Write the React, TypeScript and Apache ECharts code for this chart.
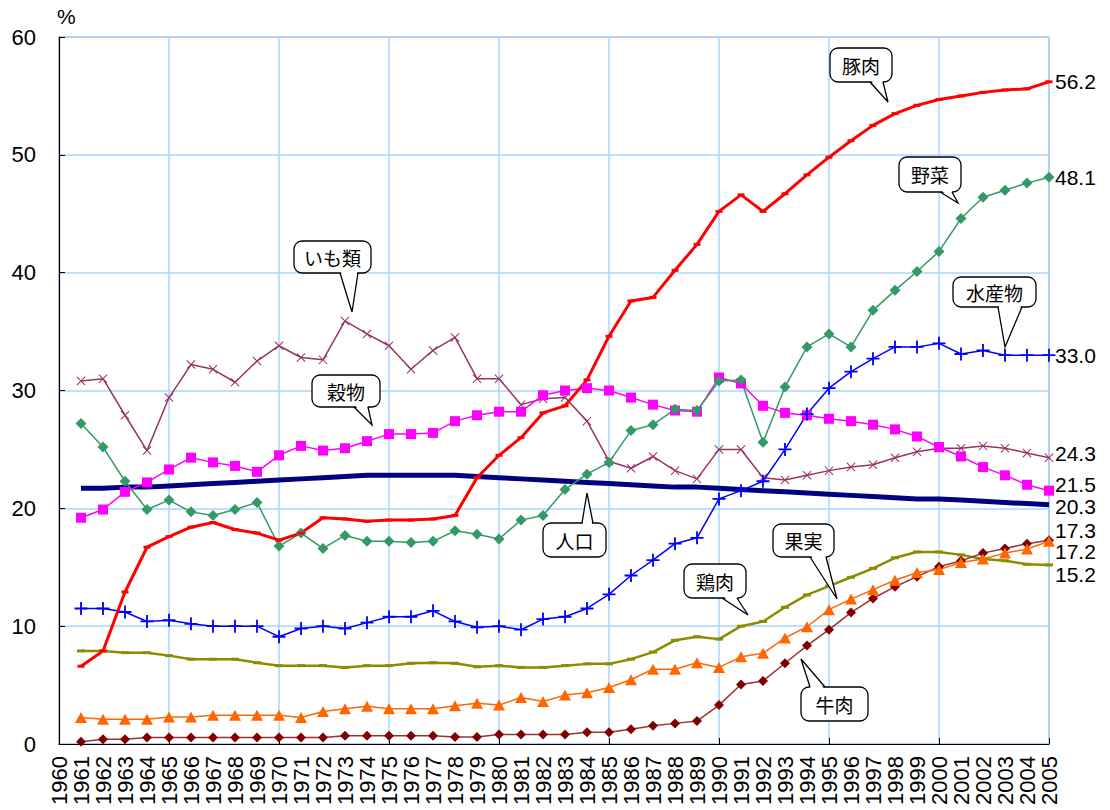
import React, { useEffect, useRef } from "react";
import * as echarts from "echarts";

// ---------- data ----------
const years: string[] = Array.from({ length: 46 }, (_, i) => String(1960 + i));
const yTicks = [0, 10, 20, 30, 40, 50, 60];

// values for 1961..2005 (1960 has no value)
const pork = [6.6, 7.9, 12.9, 16.7, 17.6, 18.4, 18.8, 18.2, 17.9, 17.3, 17.9, 19.2, 19.1, 18.9, 19.0, 19.0, 19.1, 19.4, 22.6, 24.5, 26.0, 28.1, 28.7, 30.9, 34.6, 37.6, 37.9, 40.2, 42.4, 45.2, 46.6, 45.2, 46.7, 48.3, 49.8, 51.2, 52.5, 53.5, 54.2, 54.7, 55.0, 55.3, 55.5, 55.6, 56.2];
const vegetables = [27.2, 25.2, 22.3, 19.9, 20.7, 19.7, 19.4, 19.9, 20.5, 16.8, 17.9, 16.6, 17.7, 17.2, 17.2, 17.1, 17.2, 18.1, 17.8, 17.4, 19.0, 19.4, 21.6, 22.9, 23.9, 26.6, 27.1, 28.4, 28.3, 30.8, 30.9, 25.6, 30.3, 33.7, 34.8, 33.7, 36.8, 38.5, 40.1, 41.8, 44.6, 46.4, 47.0, 47.6, 48.1];
const fishery = [11.5, 11.5, 11.2, 10.4, 10.5, 10.2, 10.0, 10.0, 10.0, 9.1, 9.8, 10.0, 9.8, 10.3, 10.8, 10.8, 11.3, 10.4, 9.9, 10.0, 9.7, 10.6, 10.8, 11.5, 12.7, 14.3, 15.6, 17.0, 17.5, 20.8, 21.5, 22.3, 25.0, 28.0, 30.2, 31.6, 32.7, 33.7, 33.7, 34.0, 33.1, 33.4, 33.0, 33.0, 33.0];
const grains = [19.2, 19.9, 21.4, 22.2, 23.3, 24.3, 23.9, 23.6, 23.1, 24.5, 25.3, 24.9, 25.1, 25.7, 26.3, 26.3, 26.4, 27.4, 27.9, 28.2, 28.2, 29.6, 30.0, 30.2, 30.0, 29.4, 28.8, 28.3, 28.2, 31.1, 30.6, 28.7, 28.1, 27.9, 27.6, 27.4, 27.1, 26.7, 26.1, 25.2, 24.4, 23.5, 22.8, 22.0, 21.5];
const potatoes = [30.8, 31.0, 27.9, 24.9, 29.4, 32.2, 31.8, 30.7, 32.5, 33.8, 32.8, 32.6, 35.9, 34.8, 33.8, 31.8, 33.4, 34.5, 31.0, 31.0, 28.8, 29.3, 29.4, 27.4, 24.0, 23.4, 24.4, 23.2, 22.5, 25.0, 25.0, 22.6, 22.4, 22.8, 23.2, 23.5, 23.7, 24.3, 24.8, 25.1, 25.1, 25.3, 25.1, 24.7, 24.3];
const population = [21.7, 21.7, 21.8, 21.8, 21.9, 22.0, 22.1, 22.2, 22.3, 22.4, 22.5, 22.6, 22.7, 22.8, 22.8, 22.8, 22.8, 22.8, 22.7, 22.6, 22.5, 22.4, 22.3, 22.2, 22.1, 22.0, 21.9, 21.8, 21.8, 21.7, 21.6, 21.5, 21.4, 21.3, 21.2, 21.1, 21.0, 20.9, 20.8, 20.8, 20.7, 20.6, 20.5, 20.4, 20.3];
const fruit = [7.9, 7.9, 7.75, 7.75, 7.5, 7.2, 7.2, 7.2, 6.9, 6.65, 6.65, 6.65, 6.5, 6.65, 6.65, 6.85, 6.9, 6.85, 6.55, 6.65, 6.5, 6.5, 6.65, 6.8, 6.8, 7.2, 7.8, 8.8, 9.1, 8.9, 10.0, 10.4, 11.6, 12.65, 13.4, 14.15, 14.9, 15.8, 16.3, 16.3, 16.05, 15.7, 15.55, 15.25, 15.2];
const chicken = [2.25, 2.1, 2.1, 2.1, 2.3, 2.3, 2.45, 2.45, 2.45, 2.45, 2.25, 2.75, 3.0, 3.2, 3.0, 3.0, 3.0, 3.25, 3.45, 3.3, 3.95, 3.6, 4.15, 4.35, 4.8, 5.45, 6.35, 6.35, 6.9, 6.5, 7.4, 7.7, 9.0, 9.95, 11.4, 12.3, 13.1, 13.9, 14.55, 14.8, 15.4, 15.7, 16.2, 16.55, 17.2];
const beef = [0.2, 0.4, 0.4, 0.55, 0.55, 0.55, 0.55, 0.55, 0.55, 0.55, 0.55, 0.55, 0.7, 0.7, 0.7, 0.7, 0.7, 0.6, 0.6, 0.8, 0.8, 0.8, 0.8, 1.0, 1.0, 1.25, 1.55, 1.75, 1.95, 3.3, 5.05, 5.35, 6.85, 8.35, 9.7, 11.15, 12.35, 13.35, 14.2, 15.05, 15.55, 16.2, 16.6, 17.0, 17.3];

// ---------- callout layout (annotation boxes, pixels) ----------
const callouts = [
  { text: "豚肉", x: 830, y: 48, w: 62, h: 34, side: "bottom", b1: 870, b2: 883, tip: [888, 102] },
  { text: "野菜", x: 899, y: 157, w: 62, h: 35, side: "bottom", b1: 940, b2: 952, tip: [958, 203] },
  { text: "水産物", x: 953, y: 277, w: 83, h: 30, side: "bottom", b1: 998, b2: 1022, tip: [1005, 347] },
  { text: "いも類", x: 294, y: 241, w: 77, h: 32, side: "bottom", b1: 340, b2: 358, tip: [352, 312] },
  { text: "穀物", x: 312, y: 375, w: 68, h: 32, side: "bottom", b1: 354, b2: 368, tip: [372, 425] },
  { text: "人口", x: 543, y: 523, w: 63, h: 34, side: "top", b1: 582, b2: 593, tip: [587, 493] },
  { text: "鶏肉", x: 684, y: 564, w: 62, h: 34, side: "bottom", b1: 722, b2: 737, tip: [748, 615] },
  { text: "果実", x: 773, y: 524, w: 61, h: 33, side: "bottom", b1: 810, b2: 826, tip: [837, 599] },
  { text: "牛肉", x: 801, y: 687, w: 67, h: 34, side: "top", b1: 810, b2: 825, tip: [801, 659] },
];

const NUM_FONT = "'Liberation Sans', Arial, sans-serif";
const JP_FONT = "'Noto Sans CJK JP', sans-serif";

const PLUS = "path://M4.3,0H5.7V4.3H10V5.7H5.7V10H4.3V5.7H0V4.3H4.3Z";
const CROSS = "path://M0.8,0L5,4.2L9.2,0L10,0.8L5.8,5L10,9.2L9.2,10L5,5.8L0.8,10L0,9.2L4.2,5L0,0.8Z";

function withGap(arr: number[]) {
  return [null, ...arr];
}

function makeSeries(
  name: string,
  data: number[],
  color: string,
  width: number,
  symbol: any,
  symbolSize: any,
  labelDy: number,
  markerColor?: string
) {
  return {
    name,
    type: "line",
    data: withGap(data),
    showSymbol: symbol !== "none",
    showAllSymbol: true,
    symbol,
    symbolSize,
    lineStyle: { color, width },
    itemStyle: { color: markerColor || color },
    emphasis: { disabled: true },
    endLabel: {
      show: true,
      formatter: (p: any) => Number(p.value).toFixed(1),
      color: "#000",
      fontSize: 21,
      lineHeight: 18,
      fontFamily: NUM_FONT,
      distance: 6,
      offset: [0, labelDy],
    },
  };
}

function buildCallouts() {
  const els: any[] = [];
  callouts.forEach((c, i) => {
    const edgeY = c.side === "bottom" ? c.y + c.h : c.y;
    const inset = c.side === "bottom" ? -2 : 2;
    els.push({
      type: "rect",
      z: 100 + i,
      shape: { x: c.x, y: c.y, width: c.w, height: c.h, r: 8 },
      style: { fill: "#fff", stroke: "#000", lineWidth: 1.3 },
    });
    els.push({
      type: "polygon",
      z: 100 + i,
      shape: { points: [[c.b1 + 0.7, edgeY + inset], [c.tip[0], c.tip[1]], [c.b2 - 0.7, edgeY + inset]] },
      style: { fill: "#fff", stroke: null },
    });
    els.push({
      type: "polyline",
      z: 100 + i,
      shape: { points: [[c.b1, edgeY], [c.tip[0], c.tip[1]], [c.b2, edgeY]] },
      style: { fill: null, stroke: "#000", lineWidth: 1.3 },
    });
    els.push({
      type: "text",
      z: 100 + i,
      x: c.x + c.w / 2,
      y: c.y + c.h / 2,
      style: {
        text: c.text,
        fill: "#000",
        font: `19px ${JP_FONT}`,
        align: "center",
        verticalAlign: "middle",
      },
    });
  });
  return els;
}

export default function App() {
  const ref = useRef<HTMLDivElement>(null);

  useEffect(() => {
    if (!ref.current) return;
    const chart = echarts.init(ref.current, null, { renderer: "svg" });
    const option: any = {
      animation: false,
      backgroundColor: "#fff",
      grid: {
        left: 59,
        right: 61,
        top: 37,
        bottom: 66,
        show: true,
        borderColor: "#888",
        borderWidth: 1,
        backgroundColor: "transparent",
        outerBoundsMode: "none",
      },
      xAxis: {
        type: "category",
        data: years,
        boundaryGap: false,
        axisLine: { show: true, lineStyle: { color: "#000", width: 1.2 } },
        axisTick: {
          show: true,
          inside: true,
          length: 6,
          interval: (i: number) => i % 5 === 0,
          lineStyle: { color: "#000" },
        },
        axisLabel: {
          interval: 0,
          rotate: 90,
          color: "#000",
          fontSize: 22,
          fontFamily: NUM_FONT,
          margin: 12,
        },
        splitLine: {
          show: true,
          interval: (i: number) => i % 5 === 0,
          lineStyle: { color: "#a8d4ff", width: 1.5 },
        },
      },
      yAxis: {
        type: "value",
        min: yTicks[0],
        max: yTicks[yTicks.length - 1],
        interval: 10,
        name: "%",
        nameLocation: "end",
        nameGap: 10,
        nameTextStyle: { color: "#000", fontSize: 21, fontFamily: NUM_FONT, align: "left", padding: [0, 0, 0, -2] },
        axisLine: { show: true, lineStyle: { color: "#000", width: 1.2 } },
        axisTick: { show: true, inside: true, length: 6, lineStyle: { color: "#000" } },
        axisLabel: { color: "#000", fontSize: 22, fontFamily: NUM_FONT, margin: 23 },
        splitLine: { show: true, lineStyle: { color: "#a8d4ff", width: 1.5 } },
      },
      series: [
        makeSeries("人口", population, "#000080", 5, "none", 0, 2),
        makeSeries("いも類", potatoes, "#993366", 1.5, CROSS, 9, -4),
        makeSeries("穀物", grains, "#ff00ff", 1.5, "rect", 10, -6),
        makeSeries("野菜", vegetables, "#339966", 1.5, "diamond", 11, 0),
        makeSeries("果実", fruit, "#8c8c00", 2.5, "rect", [8, 3], 10),
        makeSeries("牛肉", beef, "#993333", 1.5, "diamond", 10, -10, "#800000"),
        makeSeries("鶏肉", chicken, "#ff6600", 1.5, "triangle", [12, 11], 10),
        makeSeries("水産物", fishery, "#0000ff", 1.5, PLUS, 13, 0),
        makeSeries("豚肉", pork, "#ff0000", 3, "rect", [7, 3], 0),
      ],
      graphic: buildCallouts(),
    };
    chart.setOption(option);
    return () => chart.dispose();
  }, []);

  return (
    <div
      ref={ref}
      style={{ position: "absolute", left: 0, top: 0, width: 1110, height: 810, background: "#fff" }}
    />
  );
}
